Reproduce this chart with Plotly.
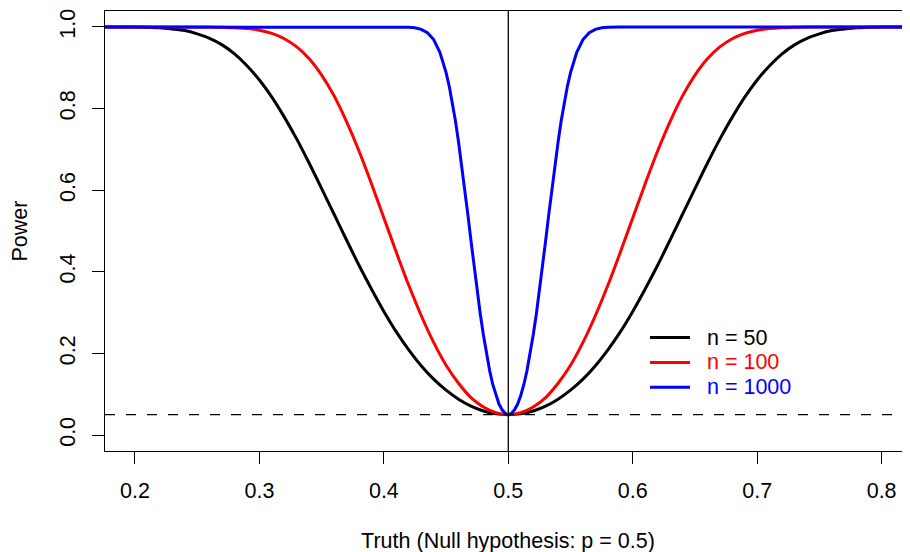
import plotly.graph_objects as go

# ---- data ----
p_grid = [0.17, 0.18, 0.19, 0.20, 0.21, 0.22, 0.23, 0.24, 0.25, 0.26, 0.27, 0.28,
          0.29, 0.30, 0.31, 0.32, 0.33, 0.34, 0.35, 0.36, 0.37, 0.38, 0.39, 0.40,
          0.41, 0.42, 0.43, 0.44, 0.45, 0.46, 0.47, 0.48, 0.49, 0.50, 0.51, 0.52,
          0.53, 0.54, 0.55, 0.56, 0.57, 0.58, 0.59, 0.60, 0.61, 0.62, 0.63, 0.64,
          0.65, 0.66, 0.67, 0.68, 0.69, 0.70, 0.71, 0.72, 0.73, 0.74, 0.75, 0.76,
          0.77, 0.78, 0.79, 0.80, 0.81, 0.82, 0.83]

power_n50 = [1.000, 1.000, 1.000, 1.000, 0.999, 0.998, 0.995, 0.991, 0.983, 0.972, 0.956,
             0.934, 0.905, 0.870, 0.828, 0.779, 0.725, 0.666, 0.604, 0.541, 0.478, 0.416,
             0.358, 0.303, 0.253, 0.209, 0.170, 0.137, 0.110, 0.088, 0.071, 0.059, 0.052,
             0.050,
             0.052, 0.059, 0.071, 0.088, 0.110, 0.137, 0.170, 0.209, 0.253, 0.303, 0.358,
             0.416, 0.478, 0.541, 0.604, 0.666, 0.725, 0.779, 0.828, 0.870, 0.905, 0.934,
             0.956, 0.972, 0.983, 0.991, 0.995, 0.998, 0.999, 1.000, 1.000, 1.000, 1.000]

power_n100 = [1.000, 1.000, 1.000, 1.000, 1.000, 1.000, 1.000, 1.000, 1.000, 1.000, 0.999,
              0.998, 0.996, 0.992, 0.984, 0.971, 0.951, 0.922, 0.882, 0.831, 0.768, 0.696,
              0.616, 0.532, 0.448, 0.367, 0.293, 0.227, 0.171, 0.127, 0.092, 0.069, 0.055,
              0.050,
              0.055, 0.069, 0.092, 0.127, 0.171, 0.227, 0.293, 0.367, 0.448, 0.532, 0.616,
              0.696, 0.768, 0.831, 0.882, 0.922, 0.951, 0.971, 0.984, 0.992, 0.996, 0.998,
              0.999, 1.000, 1.000, 1.000, 1.000, 1.000, 1.000, 1.000, 1.000, 1.000, 1.000]

p_grid_n1000 = [0.17, 0.30, 0.40, 0.41, 0.415, 0.42, 0.425, 0.43, 0.435, 0.44, 0.445, 0.45,
                0.4525, 0.455, 0.4575, 0.46, 0.4625, 0.465, 0.4675, 0.47, 0.4725, 0.475,
                0.4775, 0.48, 0.4825, 0.485, 0.4875, 0.49, 0.4925, 0.495, 0.4975,
                0.50,
                0.5025, 0.505, 0.5075, 0.51, 0.5125, 0.515, 0.5175, 0.52, 0.5225, 0.525,
                0.5275, 0.53, 0.5325, 0.535, 0.5375, 0.54, 0.5425, 0.545, 0.5475,
                0.55, 0.555, 0.56, 0.565, 0.57, 0.575, 0.58, 0.585, 0.59, 0.60, 0.70, 0.83]

power_n1000 = [1.000, 1.000, 1.000, 1.000, 1.000, 0.999, 0.998, 0.994, 0.986, 0.969, 0.938,
               0.888, 0.855, 0.815, 0.770, 0.718, 0.662, 0.602, 0.540, 0.476, 0.414, 0.353,
               0.296, 0.245, 0.198, 0.158, 0.124, 0.097, 0.076, 0.062, 0.053,
               0.050,
               0.053, 0.062, 0.076, 0.097, 0.124, 0.158, 0.198, 0.245, 0.296, 0.353, 0.414,
               0.476, 0.540, 0.602, 0.662, 0.718, 0.770, 0.815, 0.855,
               0.888, 0.938, 0.969, 0.986, 0.994, 0.998, 0.999, 1.000, 1.000, 1.000, 1.000,
               1.000]

null_p = 0.5
alpha = 0.05
x_ticks = [0.2, 0.3, 0.4, 0.5, 0.6, 0.7, 0.8]
y_ticks = [0.0, 0.2, 0.4, 0.6, 0.8, 1.0]
series_names = ["n = 50", "n = 100", "n = 1000"]
series_colors = ["#000000", "#FF0000", "#0000FF"]

FONT = "Liberation Sans, Arial, Helvetica, sans-serif"
FS = 21.5

fig = go.Figure()
series = [(p_grid, power_n50, "spline"),
          (p_grid, power_n100, "spline"),
          (p_grid_n1000, power_n1000, "linear")]
for (xs, ys, shape), name, color in zip(series, series_names, series_colors):
    fig.add_trace(go.Scatter(
        x=xs, y=ys, mode="lines",
        line=dict(color=color, width=3, shape=shape),
        name=name, showlegend=False,
    ))

# reference lines
fig.add_shape(type="line", xref="x", yref="paper", x0=null_p, x1=null_p, y0=0, y1=1,
              line=dict(color="black", width=1.3), layer="above")
fig.add_shape(type="line", xref="paper", yref="y", x0=0, x1=1, y0=alpha, y1=alpha,
              line=dict(color="black", width=1.3, dash="10px,11px"), layer="above")

# legend (R-style, no box): key lines + coloured labels, placed in paper coords
PLOT_L, PLOT_R, PLOT_T, PLOT_B = 105, 911, 9, 451
def px_x(px):
    return (px - PLOT_L) / (PLOT_R - PLOT_L)
def px_y(py):
    return (PLOT_B - py) / (PLOT_B - PLOT_T)

legend_rows = [337, 362, 387]
for name, color, row in zip(series_names, series_colors, legend_rows):
    fig.add_shape(type="line", xref="paper", yref="paper",
                  x0=px_x(650), x1=px_x(690), y0=px_y(row), y1=px_y(row),
                  line=dict(color=color, width=3))
    fig.add_annotation(xref="paper", yref="paper", x=px_x(705), y=px_y(row),
                       xanchor="left", yanchor="middle", showarrow=False,
                       text=name, font=dict(color=color, size=FS, family=FONT))

fig.update_layout(
    width=910, height=552,
    margin=dict(l=97, r=7, t=1, b=109),
    paper_bgcolor="white", plot_bgcolor="white",
    font=dict(family=FONT, size=FS, color="black"),
    showlegend=False,
    xaxis=dict(
        range=[0.1759, 0.8236], tickmode="array", tickvals=x_ticks,
        ticktext=[f"{v:.1f}" for v in x_ticks],
        ticks="outside", ticklen=12, tickwidth=1.3, tickcolor="black",
        showline=True, linecolor="black", linewidth=1.3, mirror=True,
        showgrid=False, zeroline=False, ticklabelstandoff=8,
        ticklabeloverflow="allow",
        title=dict(text="Truth (Null hypothesis: p = 0.5)", standoff=30,
                   font=dict(size=FS)),
    ),
    yaxis=dict(
        range=[-0.039, 1.039], tickmode="array", tickvals=y_ticks,
        ticktext=[f"{v:.1f}" for v in y_ticks], tickangle=-90,
        ticks="outside", ticklen=12, tickwidth=1.3, tickcolor="black",
        showline=True, linecolor="black", linewidth=1.3, mirror=True,
        showgrid=False, zeroline=False, ticklabelstandoff=8,
        ticklabeloverflow="allow",
        title=dict(text="Power", standoff=27, font=dict(size=FS)),
    ),
)

fig.write_html("out.html")
